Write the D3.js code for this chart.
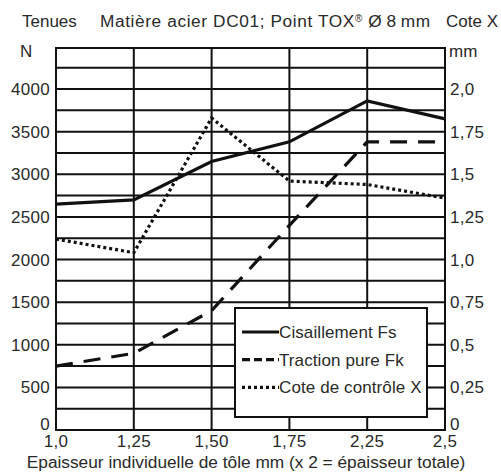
<!DOCTYPE html>
<html>
<head>
<meta charset="utf-8">
<script src="https://cdn.jsdelivr.net/npm/d3@7"></script>
<style>
    body { margin: 0; background: #fff; }
    svg text { font-family: "Liberation Sans", Arial, sans-serif; fill: #2a2a2a; }
</style>
</head>
<body>
<div id="chart"></div>
<script>
// épaisseur individuelle (catégories, espacement régulier)
var categories = ["1,0", "1,25", "1,50", "1,75", "2,25", "2,5"];
// N
var cisaillement = [2650, 2700, 3150, 3380, 3860, 3650];
var traction = [750, 900, 1400, 2400, 3380, 3380];
// mm
var coteX = [1.12, 1.04, 1.83, 1.46, 1.44, 1.36];

var leftTicks = [0, 500, 1000, 1500, 2000, 2500, 3000, 3500, 4000];
var rightTicks = ["0", "0,25", "0,5", "0,75", "1,0", "1,25", "1,5", "1,75", "2,0"];
var legendNames = ["Cisaillement Fs", "Traction pure Fk", "Cote de contrôle X"];

var W = 501, H = 474;
var svg = d3.select("#chart").append("svg").attr("width", W).attr("height", H);

var x = d3.scalePoint().domain(categories).range([56, 445]);
var y = d3.scaleLinear().domain([0, 4000]).range([430, 89]);
var y2 = d3.scaleLinear().domain([0, 2]).range([430, 89]);
var frameTop = 48;

// grille
var grid = svg.append("g").attr("stroke", "#111").attr("stroke-width", 2);
grid.selectAll("line.h")
    .data(d3.range(0, 4251, 250))
    .enter()
    .append("line")
    .attr("x1", x(categories[0])).attr("x2", x(categories[5]))
    .attr("y1", function (d) { return y(d); }).attr("y2", function (d) { return y(d); });
grid.append("line")
    .attr("x1", x(categories[0]) - 1).attr("x2", x(categories[5]) + 1)
    .attr("y1", frameTop).attr("y2", frameTop);
grid.selectAll("line.v")
    .data(categories)
    .enter()
    .append("line")
    .attr("x1", function (d) { return x(d); }).attr("x2", function (d) { return x(d); })
    .attr("y1", frameTop).attr("y2", y(0) + 1);

// axes (texte seulement)
svg.append("g").selectAll("text")
    .data(leftTicks)
    .enter()
    .append("text")
    .attr("x", 50)
    .attr("y", function (d) { return y(d) + (d === 0 ? 0 : 6); })
    .attr("text-anchor", "end")
    .attr("font-size", 17)
    .attr("letter-spacing", 0.3)
    .text(function (d) { return d; });

svg.append("g").selectAll("text")
    .data(rightTicks)
    .enter()
    .append("text")
    .attr("x", 450)
    .attr("y", function (d, i) { return y(i * 500) + (i === 0 ? 0 : 6); })
    .attr("font-size", 17)
    .attr("letter-spacing", 0.3)
    .text(function (d) { return d; });

svg.append("g").selectAll("text")
    .data(categories)
    .enter()
    .append("text")
    .attr("x", function (d) { return x(d); })
    .attr("y", 447)
    .attr("text-anchor", "middle")
    .attr("font-size", 17)
    .attr("letter-spacing", 0.3)
    .text(function (d) { return d; });

svg.append("text").attr("x", 22).attr("y", 27).attr("font-size", 17).text("Tenues");
var t = svg.append("text").attr("x", 100).attr("y", 27).attr("font-size", 17.3).attr("letter-spacing", 0.6);
t.append("tspan").text("Matière acier DC01; Point TOX");
t.append("tspan").attr("font-size", 10).attr("dy", -5).text("®");
t.append("tspan").attr("dy", 5).text(" Ø\u20098\u2009mm");
svg.append("text").attr("x", 498).attr("y", 27).attr("text-anchor", "end").attr("font-size", 17).text("Cote X");
svg.append("text").attr("x", 20).attr("y", 57).attr("font-size", 17).text("N");
svg.append("text").attr("x", 449).attr("y", 57).attr("font-size", 17).text("mm");
svg.append("text").attr("x", 246).attr("y", 468).attr("text-anchor", "middle").attr("font-size", 17.3)
    .text("Epaisseur individuelle de tôle mm (x 2 = épaisseur totale)");

// courbes
var lineN = d3.line()
    .x(function (d, i) { return x(categories[i]); })
    .y(function (d) { return y(d); });
var lineMm = d3.line()
    .x(function (d, i) { return x(categories[i]); })
    .y(function (d) { return y2(d); });

svg.append("path").datum(cisaillement)
    .attr("d", lineN).attr("fill", "none").attr("stroke", "#111").attr("stroke-width", 3.2);
svg.append("path").datum(traction)
    .attr("d", lineN).attr("fill", "none").attr("stroke", "#111").attr("stroke-width", 3.2)
    .attr("stroke-dasharray", "17,11");
svg.append("path").datum(coteX)
    .attr("d", lineMm).attr("fill", "none").attr("stroke", "#111").attr("stroke-width", 3.2)
    .attr("stroke-dasharray", "3,3");

// légende
var lg = svg.append("g").attr("transform", "translate(235,308)");
lg.append("rect").attr("width", 192).attr("height", 109)
    .attr("fill", "#fff").attr("stroke", "#111").attr("stroke-width", 2);
var dashes = [null, "8,4", "3,3"];
legendNames.forEach(function (name, i) {
    var yy = 24 + i * 27.7;
    lg.append("line").attr("x1", 7).attr("x2", 44).attr("y1", yy).attr("y2", yy)
        .attr("stroke", "#111").attr("stroke-width", 3.2)
        .attr("stroke-dasharray", dashes[i]);
    lg.append("text").attr("x", 44).attr("y", yy + 6).attr("font-size", 17)
        .attr("letter-spacing", 0.1).text(name);
});
</script>
</body>
</html>
